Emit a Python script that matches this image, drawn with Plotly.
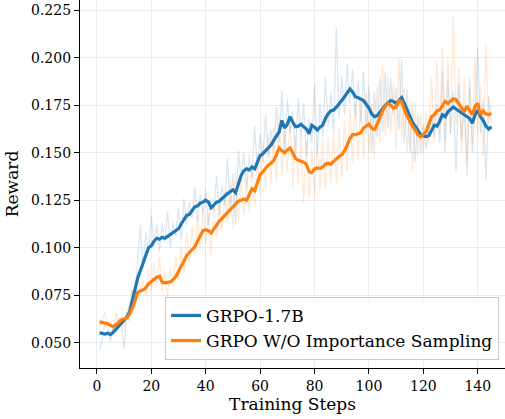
import plotly.graph_objects as go

steps = list(range(1, 146))

grpo_smooth = [
    .0553, .0548, .0545, .0550, .0543, .0555, .0572, .0590, .0605, .0620,
    .0635, .0660, .0720, .0780, .0840, .0880, .0920, .0965, .1000, .1010,
    .1035, .1050, .1045, .1055, .1050, .1060, .1070, .1085, .1090, .1100,
    .1125, .1150, .1170, .1175, .1195, .1215, .1220, .1235, .1240, .1250,
    .1240, .1210, .1225, .1240, .1245, .1260, .1275, .1285, .1295, .1305,
    .1290, .1330, .1380, .1405, .1415, .1410, .1425, .1415, .1455, .1485,
    .1495, .1510, .1530, .1540, .1565, .1585, .1610, .1670, .1630, .1650,
    .1690, .1660, .1637, .1640, .1650, .1637, .1625, .1600, .1645, .1635,
    .1620, .1635, .1645, .1680, .1705, .1720, .1725, .1740, .1755, .1775,
    .1795, .1815, .1835, .1820, .1795, .1790, .1780, .1775, .1755, .1735,
    .1705, .1690, .1695, .1710, .1730, .1750, .1765, .1775, .1770, .1760,
    .1775, .1790, .1760, .1725, .1690, .1660, .1640, .1620, .1595, .1590,
    .1585, .1590, .1620, .1645, .1640, .1665, .1700, .1690, .1715, .1730,
    .1740, .1730, .1720, .1710, .1700, .1695, .1680, .1655, .1700, .1725,
    .1690, .1670, .1640, .1625, .1637,
]

wo_is_smooth = [
    .0610, .0607, .0603, .0600, .0592, .0585, .0595, .0610, .0620, .0625,
    .0630, .0650, .0680, .0720, .0765, .0772, .0778, .0790, .0810, .0822,
    .0835, .0845, .0850, .0818, .0815, .0816, .0820, .0832, .0847, .0875,
    .0905, .0930, .0958, .0975, .0990, .1005, .1035, .1065, .1090, .1095,
    .1090, .1078, .1100, .1125, .1140, .1155, .1170, .1190, .1205, .1215,
    .1230, .1245, .1250, .1255, .1250, .1280, .1310, .1300, .1345, .1385,
    .1400, .1420, .1435, .1445, .1460, .1490, .1525, .1510, .1500, .1515,
    .1525, .1500, .1470, .1460, .1455, .1450, .1440, .1400, .1395, .1415,
    .1420, .1418, .1425, .1440, .1445, .1440, .1455, .1470, .1480, .1490,
    .1510, .1540, .1575, .1595, .1595, .1600, .1605, .1630, .1640, .1650,
    .1630, .1622, .1650, .1690, .1720, .1745, .1760, .1750, .1735, .1740,
    .1775, .1770, .1725, .1695, .1665, .1640, .1620, .1595, .1585, .1600,
    .1610, .1650, .1690, .1700, .1720, .1725, .1745, .1770, .1760, .1770,
    .1785, .1780, .1760, .1740, .1715, .1745, .1720, .1700, .1745, .1760,
    .1700, .1720, .1705, .1700, .1707,
]

grpo_raw = [
    .046, .052, .060, .057, .051, .058, .056, .063, .059, .047,
    .066, .070, .078, .072, .093, .112, .089, .108, .098, .117,
    .101, .112, .098, .113, .103, .119, .100, .113, .106, .121,
    .104, .126, .112, .124, .115, .132, .114, .128, .118, .131,
    .112, .126, .119, .138, .117, .133, .122, .147, .121, .139,
    .112, .152, .136, .150, .131, .149, .137, .164, .141, .160,
    .145, .170, .148, .162, .150, .174, .155, .183, .150, .178,
    .160, .172, .149, .179, .157, .176, .148, .168, .155, .186,
    .149, .176, .158, .190, .164, .182, .160, .216, .168, .190,
    .170, .197, .176, .194, .168, .188, .166, .193, .160, .185,
    .150, .182, .158, .190, .161, .193, .163, .189, .170, .184,
    .162, .199, .155, .183, .150, .175, .145, .170, .150, .165,
    .152, .160, .170, .158, .176, .155, .193, .150, .188, .160,
    .182, .140, .186, .157, .175, .138, .190, .150, .172, .205,
    .160, .178, .135, .180, .165,
]

wo_is_raw = [
    .058, .063, .066, .059, .061, .055, .066, .060, .064, .057,
    .066, .061, .078, .068, .087, .075, .083, .074, .089, .077,
    .092, .080, .095, .077, .088, .074, .090, .079, .096, .083,
    .101, .087, .108, .092, .112, .095, .117, .099, .121, .102,
    .118, .096, .124, .105, .127, .109, .129, .112, .135, .110,
    .140, .114, .138, .117, .136, .118, .145, .122, .150, .128,
    .156, .130, .160, .134, .163, .135, .170, .138, .162, .140,
    .168, .132, .160, .133, .158, .124, .156, .126, .152, .128,
    .155, .130, .157, .131, .158, .134, .160, .133, .163, .137,
    .167, .140, .174, .145, .176, .146, .178, .147, .182, .150,
    .176, .148, .185, .155, .196, .158, .190, .160, .186, .152,
    .200, .158, .184, .150, .178, .140, .175, .148, .170, .150,
    .172, .155, .190, .155, .198, .160, .205, .157, .200, .160,
    .222, .165, .195, .150, .190, .145, .185, .155, .200, .160,
    .185, .148, .207, .165, .175,
]

series_names = ["GRPO-1.7B", "GRPO W/O Importance Sampling"]
x_ticks = [0, 20, 40, 60, 80, 100, 120, 140]
y_ticks = [0.050, 0.075, 0.100, 0.125, 0.150, 0.175, 0.200, 0.225]

BLUE = "#1f77b4"
ORANGE = "#ff7f0e"
FONT = "DejaVu Serif"

fig = go.Figure()
fig.add_trace(go.Scatter(x=steps, y=grpo_raw, mode="lines",
                         line=dict(color=BLUE, width=1.2), opacity=0.17,
                         showlegend=False, hoverinfo="skip"))
fig.add_trace(go.Scatter(x=steps, y=wo_is_raw, mode="lines",
                         line=dict(color=ORANGE, width=1.2), opacity=0.17,
                         showlegend=False, hoverinfo="skip"))
fig.add_trace(go.Scatter(x=steps, y=grpo_smooth, mode="lines",
                         line=dict(color=BLUE, width=3.2),
                         name=series_names[0]))
fig.add_trace(go.Scatter(x=steps, y=wo_is_smooth, mode="lines",
                         line=dict(color=ORANGE, width=3.2),
                         name=series_names[1]))

fig.update_layout(
    width=505, height=419,
    margin=dict(l=80, r=0, t=0, b=51, autoexpand=False),
    paper_bgcolor="white", plot_bgcolor="white",
    font=dict(family=FONT, color="black", size=14),
    legend=dict(
        x=0.986, y=0.022, xanchor="right", yanchor="bottom",
        bgcolor="rgba(255,255,255,0.85)", bordercolor="#cccccc", borderwidth=1,
        font=dict(family=FONT, size=17),
        tracegroupgap=0,
    ),
    xaxis=dict(
        range=[-6.2, 150.0], tickmode="array", tickvals=x_ticks,
        showgrid=True, gridcolor="#ebebeb", gridwidth=1,
        showline=True, linecolor="black", linewidth=1.2,
        ticks="outside", ticklen=5, tickcolor="black",
        zeroline=False, tickfont=dict(family=FONT, size=14),
        title=dict(text="Training Steps", font=dict(family=FONT, size=17), standoff=4),
    ),
    yaxis=dict(
        range=[0.0367, 0.2304], tickmode="array", tickvals=y_ticks,
        tickformat=".3f",
        showgrid=True, gridcolor="#ebebeb", gridwidth=1,
        showline=True, linecolor="black", linewidth=1.2,
        ticks="outside", ticklen=5, tickcolor="black",
        zeroline=False, tickfont=dict(family=FONT, size=14),
        title=dict(text="Reward", font=dict(family=FONT, size=17), standoff=8),
    ),
)

fig.write_html(
    "out.html",
    config={"displayModeBar": False},
    post_script="document.body.style.margin='0';document.body.style.padding='0';",
)
